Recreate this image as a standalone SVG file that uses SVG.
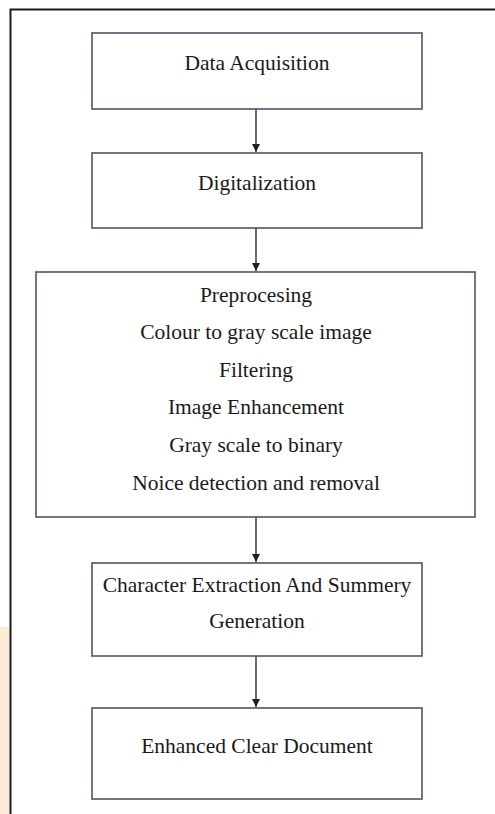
<svg xmlns="http://www.w3.org/2000/svg" width="495" height="814" viewBox="0 0 495 814">
<style>
.box{fill:#fff;stroke:#50536e;stroke-width:1.6}
.t{font-family:"Liberation Serif","Times New Roman",serif;font-size:21.5px;fill:#1a1a1a;text-anchor:middle}
.c{stroke:#2b2b2b;stroke-width:1.4;fill:none}
</style>
<defs>
<marker id="ah" viewBox="0 0 8 8" refX="8" refY="4" markerWidth="8" markerHeight="8" markerUnits="userSpaceOnUse" orient="auto">
<path d="M0,0 L8,4 L0,8 z" fill="#1f1f1f"/>
</marker>
</defs>
<rect width="495" height="814" fill="#fff"/>
<rect x="0" y="627" width="9" height="187" fill="#fdebd8"/>
<path d="M10.5,814 V9.5 H495" fill="none" stroke="#1a1a1a" stroke-width="2"/>
<g id="connectors">
<line class="c" x1="256" y1="109" x2="256" y2="152" marker-end="url(#ah)"/>
<line class="c" x1="256" y1="228" x2="256" y2="271" marker-end="url(#ah)"/>
<line class="c" x1="256" y1="517" x2="256" y2="562" marker-end="url(#ah)"/>
<line class="c" x1="256" y1="656" x2="256" y2="707" marker-end="url(#ah)"/>
</g>
<g id="n1">
<rect class="box" x="92" y="33" width="330" height="76"/>
<text class="t" x="257" y="70">Data Acquisition</text>
</g>
<g id="n2">
<rect class="box" x="92" y="153" width="330" height="75"/>
<text class="t" x="257" y="190">Digitalization</text>
</g>
<g id="n3">
<rect class="box" x="36" y="272" width="439" height="245"/>
<text class="t" x="256" y="302">Preprocesing</text>
<text class="t" x="256" y="339">Colour to gray scale image</text>
<text class="t" x="256" y="377">Filtering</text>
<text class="t" x="256" y="414">Image Enhancement</text>
<text class="t" x="256" y="452">Gray scale to binary</text>
<text class="t" x="256" y="490">Noice detection and removal</text>
</g>
<g id="n4">
<rect class="box" x="92" y="563" width="330" height="93"/>
<text class="t" x="257" y="592">Character Extraction And Summery</text>
<text class="t" x="257" y="628">Generation</text>
</g>
<g id="n5">
<rect class="box" x="92" y="708" width="330" height="91"/>
<text class="t" x="257" y="753">Enhanced Clear Document</text>
</g>
</svg>
